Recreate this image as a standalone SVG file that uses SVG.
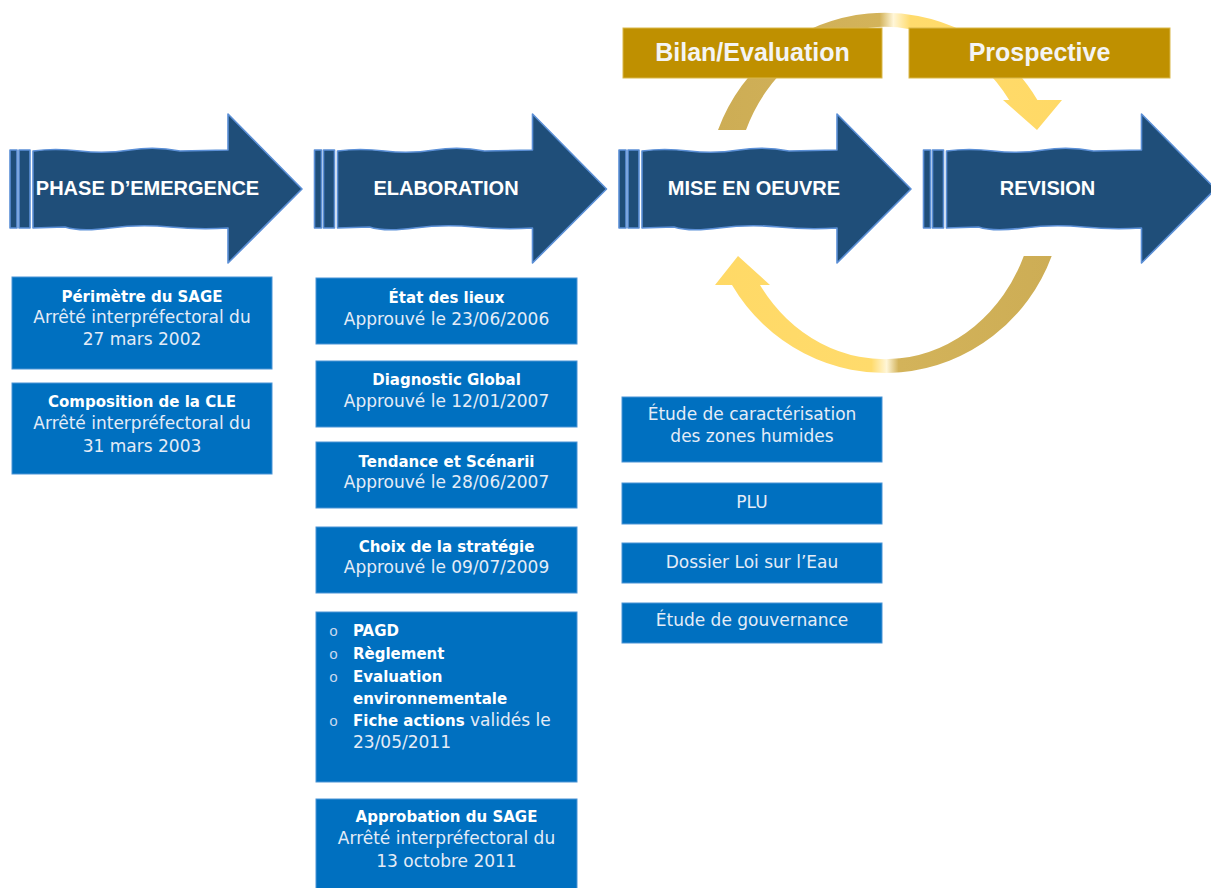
<svg xmlns="http://www.w3.org/2000/svg" width="1211" height="888" viewBox="0 0 1211 888">
<style>
.box{fill:#0070C0;stroke:#4A94D6;stroke-width:1}
.gold{fill:#BF9000;stroke:#D9B84A;stroke-width:1}
.arr{fill:#1F4E79;stroke:#5B8FD6;stroke-width:1.6;stroke-linejoin:round}
.lbl{font-family:"Liberation Sans",Arial,sans-serif;font-weight:bold;font-size:20px;fill:#FFFFFF;text-anchor:middle}
.glbl{font-family:"Liberation Sans",Arial,sans-serif;font-weight:bold;font-size:25px;fill:#F4F4F4;text-anchor:middle}
.t{font-family:"DejaVu Sans","Liberation Sans",sans-serif;font-weight:bold;font-size:15px;fill:#FFFFFF;text-anchor:middle}
.s{font-family:"DejaVu Sans","Liberation Sans",sans-serif;font-size:17px;fill:#E4ECF7;text-anchor:middle}
.tl{font-family:"DejaVu Sans","Liberation Sans",sans-serif;font-weight:bold;font-size:15px;fill:#FFFFFF}
.sl{font-family:"DejaVu Sans","Liberation Sans",sans-serif;font-size:17px;fill:#E4ECF7}
.bul{font-family:"Liberation Mono","DejaVu Sans Mono",monospace;font-size:15px;fill:#C8D8EE}
</style>
<defs>
<linearGradient id="gTop" gradientUnits="userSpaceOnUse" x1="718" y1="0" x2="1062" y2="0">
<stop offset="0" stop-color="#CDAD55"/>
<stop offset="0.47" stop-color="#D3B35A"/>
<stop offset="0.51" stop-color="#FFF6D8"/>
<stop offset="0.56" stop-color="#FFDB6C"/>
<stop offset="1" stop-color="#FFD966"/>
</linearGradient>
<linearGradient id="gBot" gradientUnits="userSpaceOnUse" x1="1055" y1="0" x2="715" y2="0">
<stop offset="0" stop-color="#CDAD55"/>
<stop offset="0.46" stop-color="#D3B35A"/>
<stop offset="0.495" stop-color="#FFF6D8"/>
<stop offset="0.54" stop-color="#FFDB6C"/>
<stop offset="1" stop-color="#FFD966"/>
</linearGradient>
<g id="bigArrow">
<rect class="arr" x="0" y="150" width="7" height="78"/>
<rect class="arr" x="9" y="150" width="11" height="78"/>
<path class="arr" d="M23,151 Q45,148 70,151 T120,150 T170,151 L218,150 L218,114 L292,189 L218,263 L218,228 Q190,230 160,227 T100,228 T55,227 L23,228 Z"/>
</g>
</defs>

<g id="cycle">
<path id="cycle-top" fill="url(#gTop)" d="M718,130 A178,180 0 0 1 1037.4,100 L1062,100 L1037,130 L1003,100 L1009.2,100 A150,166 0 0 0 746,130 Z"/>
<path id="cycle-bottom" fill="url(#gBot)" d="M1051.7,256 A178,180 0 0 1 732,285 L715,285 L738,256 L770,285 L760,285 A150,166 0 0 0 1023.8,256 Z"/>
</g>

<g id="bilan">
<rect class="gold" x="623" y="28" width="259" height="50"/>
<text class="glbl" x="752.5" y="61">Bilan/Evaluation</text>
</g>
<g id="prospective">
<rect class="gold" x="909" y="28" width="261" height="50"/>
<text class="glbl" x="1039.5" y="61">Prospective</text>
</g>

<g id="phase-emergence">
<use href="#bigArrow" x="10" y="0"/>
<text class="lbl" x="147.5" y="195">PHASE D’EMERGENCE</text>
</g>
<g id="elaboration">
<use href="#bigArrow" x="314.5" y="0"/>
<text class="lbl" x="446" y="195">ELABORATION</text>
</g>
<g id="mise-en-oeuvre">
<use href="#bigArrow" x="619" y="0"/>
<text class="lbl" x="754" y="195">MISE EN OEUVRE</text>
</g>
<g id="revision">
<use href="#bigArrow" x="923.5" y="0"/>
<text class="lbl" x="1047.5" y="195">REVISION</text>
</g>

<g id="perimetre">
<rect class="box" x="12" y="277" width="260" height="92"/>
<text class="t" x="142" y="302">Périmètre du SAGE</text>
<text class="s" x="142" y="323">Arrêté interpréfectoral du</text>
<text class="s" x="142" y="345">27 mars 2002</text>
</g>
<g id="composition">
<rect class="box" x="12" y="383" width="260" height="91"/>
<text class="t" x="142" y="407">Composition de la CLE</text>
<text class="s" x="142" y="429">Arrêté interpréfectoral du</text>
<text class="s" x="142" y="452">31 mars 2003</text>
</g>

<g id="etat-des-lieux">
<rect class="box" x="316" y="278" width="261" height="66"/>
<text class="t" x="446.5" y="303">État des lieux</text>
<text class="s" x="446.5" y="325">Approuvé le 23/06/2006</text>
</g>
<g id="diagnostic">
<rect class="box" x="316" y="361" width="261" height="66"/>
<text class="t" x="446.5" y="385">Diagnostic Global</text>
<text class="s" x="446.5" y="407">Approuvé le 12/01/2007</text>
</g>
<g id="tendance">
<rect class="box" x="316" y="442" width="261" height="66"/>
<text class="t" x="446.5" y="467">Tendance et Scénarii</text>
<text class="s" x="446.5" y="488">Approuvé le 28/06/2007</text>
</g>
<g id="choix">
<rect class="box" x="316" y="527" width="261" height="66"/>
<text class="t" x="446.5" y="552">Choix de la stratégie</text>
<text class="s" x="446.5" y="573">Approuvé le 09/07/2009</text>
</g>
<g id="documents">
<rect class="box" x="316" y="612" width="261" height="170"/>
<text class="bul" x="329" y="636">o</text>
<text class="tl" x="353" y="636">PAGD</text>
<text class="bul" x="329" y="659">o</text>
<text class="tl" x="353" y="659">Règlement</text>
<text class="bul" x="329" y="682">o</text>
<text class="tl" x="353" y="682">Evaluation</text>
<text class="tl" x="353" y="704">environnementale</text>
<text class="bul" x="329" y="726">o</text>
<text x="353" y="726"><tspan class="tl">Fiche actions</tspan><tspan class="sl"> validés le</tspan></text>
<text class="sl" x="353" y="748">23/05/2011</text>
</g>
<g id="approbation">
<rect class="box" x="316" y="799" width="261" height="95"/>
<text class="t" x="446.5" y="822">Approbation du SAGE</text>
<text class="s" x="446.5" y="844">Arrêté interpréfectoral du</text>
<text class="s" x="446.5" y="867">13 octobre 2011</text>
</g>

<g id="etude-zones-humides">
<rect class="box" x="622" y="397" width="260" height="65"/>
<text class="s" x="752" y="420">Étude de caractérisation</text>
<text class="s" x="752" y="442">des zones humides</text>
</g>
<g id="plu">
<rect class="box" x="622" y="483" width="260" height="41"/>
<text class="s" x="752" y="508">PLU</text>
</g>
<g id="dossier-loi-eau">
<rect class="box" x="622" y="543" width="260" height="40"/>
<text class="s" x="752" y="568">Dossier Loi sur l’Eau</text>
</g>
<g id="etude-gouvernance">
<rect class="box" x="622" y="603" width="260" height="40"/>
<text class="s" x="752" y="626">Étude de gouvernance</text>
</g>
</svg>
